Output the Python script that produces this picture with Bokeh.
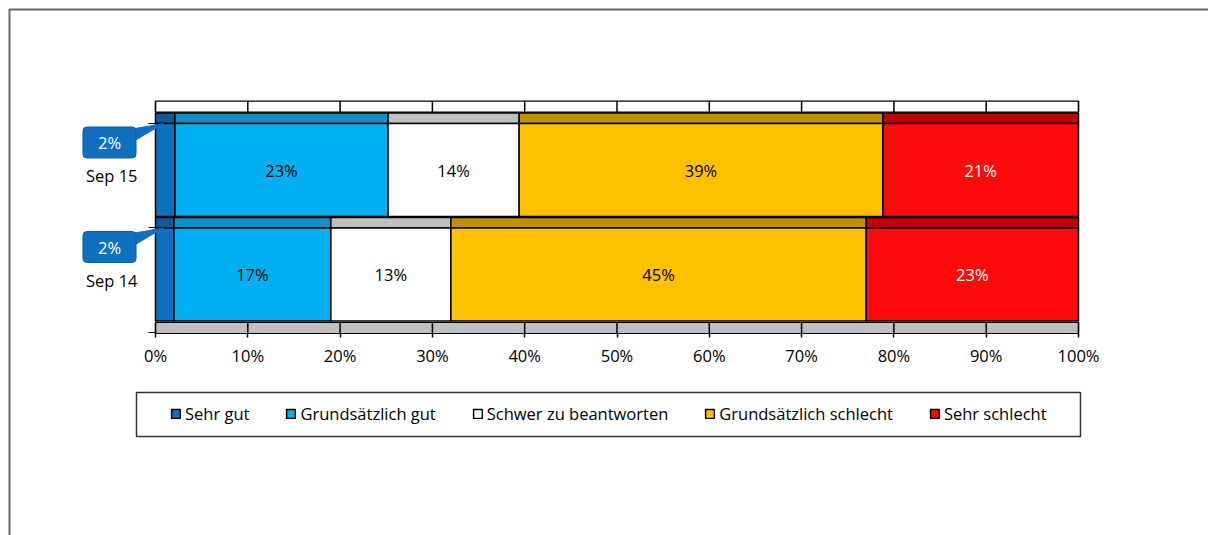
from bokeh.plotting import figure
from bokeh.models import (Range1d, FixedTicker, Legend, LegendItem, Label,
                          PolyAnnotation, BoxAnnotation, ColumnDataSource)
from bokeh.embed import file_html
from bokeh.resources import INLINE
from bokeh.core.properties import value

# ---------------- data ----------------
categories = ["Sep 14", "Sep 15"]
series = ["Sehr gut", "Grundsätzlich gut", "Schwer zu beantworten",
          "Grundsätzlich schlecht", "Sehr schlecht"]
sep14 = [2.0, 17.0, 13.0, 45.0, 23.0]
sep15 = [2.1, 23.1, 14.2, 39.4, 21.2]
x_ticks = [0, 10, 20, 30, 40, 50, 60, 70, 80, 90, 100]
x_tick_labels = ["0%", "10%", "20%", "30%", "40%", "50%", "60%", "70%", "80%", "90%", "100%"]

# ---------------- layout / style ----------------
W, H = 1208, 535
face_colors = ["#1070c0", "#00b0f0", "#ffffff", "#ffc000", "#ff0a0a"]
top_colors = ["#0c5a9e", "#1090c8", "#c0c0c0", "#c39100", "#c00000"]
label_colors = ["white", "black", "black", "black", "white"]
FONT = "Open Sans"
FS = "16.5px"
BAR_H = 0.89
DEPTH = 0.1

# screen <-> data helpers (frame covers the whole canvas)
X_ORIGIN_PX, X_PX_PER_UNIT = 155.0, 9.23
Y_ORIGIN_PX, Y_PX_PER_UNIT = 274.0, 104.5
def px2x(px):
    return (px - X_ORIGIN_PX) / X_PX_PER_UNIT
def px2y(py):
    return (Y_ORIGIN_PX - py) / Y_PX_PER_UNIT
PX_X = 1 / X_PX_PER_UNIT
PX_Y = 1 / Y_PX_PER_UNIT

values = [sep14, sep15]
ypos = list(range(len(categories)))
FACE_TOP = [y + BAR_H / 2 for y in ypos]
FLOOR_B = -1 + BAR_H / 2 - PX_Y          # bottom of floor strip
FLOOR_T = FLOOR_B + 11 * PX_Y
CEIL_B = ypos[-1] + BAR_H / 2 + DEPTH + PX_Y
CEIL_T = CEIL_B + 11 * PX_Y

p = figure(width=W, height=H, output_backend="svg", toolbar_location=None,
           x_range=Range1d(px2x(0), px2x(W)), y_range=Range1d(px2y(H), px2y(0)),
           min_border=0)
p.outline_line_color = None
p.xgrid.visible = False
p.ygrid.visible = False
p.background_fill_color = "white"
p.border_fill_color = "white"

# outer frame of the chart area
p.add_layout(BoxAnnotation(left=px2x(9), top=px2y(9), right=px2x(W + 50), bottom=px2y(H + 50),
                           fill_alpha=0, line_color="#666666", line_alpha=1, line_width=2))

# floor and ceiling strips with grid separators
p.quad(left=[x_ticks[0]], right=[x_ticks[-1]], bottom=[FLOOR_B], top=[FLOOR_T],
       fill_color="#c0c0c0", line_color="black", line_width=1.2)
p.segment(x0=x_ticks, y0=[FLOOR_B] * len(x_ticks), x1=x_ticks, y1=[FLOOR_T] * len(x_ticks),
          line_color="black", line_width=1.5)
p.quad(left=[x_ticks[0]], right=[x_ticks[-1]], bottom=[CEIL_B], top=[CEIL_T],
       fill_color="white", line_color="black", line_width=1.2)
p.segment(x0=x_ticks, y0=[CEIL_B] * len(x_ticks), x1=x_ticks, y1=[CEIL_T] * len(x_ticks),
          line_color="black", line_width=1.5)

face_renderers = []
cum = [0.0] * len(categories)
for i, name in enumerate(series):
    vals = [values[c][i] for c in range(len(categories))]
    left = cum[:]
    right = [l + v for l, v in zip(left, vals)]
    src = ColumnDataSource(dict(y=ypos, left=left, right=right,
                                mid=[(l + r) / 2 for l, r in zip(left, right)],
                                top0=FACE_TOP,
                                top1=[t + DEPTH for t in FACE_TOP],
                                lbl=[f"{round(v)}%" for v in vals]))
    p.quad(left="left", right="right", bottom="top0", top="top1", source=src,
           fill_color=top_colors[i], line_color="black", line_width=1.5)
    r = p.hbar(y="y", left="left", right="right", height=BAR_H, source=src,
               fill_color=face_colors[i], line_color="black", line_width=1.5)
    face_renderers.append(r)
    if i > 0:
        p.text(x="mid", y="y", text="lbl", source=src, text_align="center",
               text_baseline="middle", text_color=label_colors[i],
               text_font=value(FONT), text_font_size=FS)
    else:
        # callouts for the thin first segment
        for c in range(len(categories)):
            tipx = left[c] + vals[c] * 0.42
            tipy = FACE_TOP[c]
            p.add_layout(PolyAnnotation(
                xs=[tipx, tipx - 34 * PX_X, tipx - 27 * PX_X],
                ys=[tipy, tipy - 6 * PX_Y, tipy - 16 * PX_Y],
                fill_color=face_colors[0], fill_alpha=1.0,
                line_color=face_colors[0], line_alpha=1.0, line_width=1))
            p.add_layout(Label(x=left[c] - 46 * PX_X, y=ypos[c] + 27.5 * PX_Y,
                               text=f"{round(vals[c])}%", text_align="center",
                               text_baseline="middle", text_color="white",
                               text_font=FONT, text_font_size=FS,
                               background_fill_color=face_colors[0],
                               border_line_color="#0d5c9f", border_line_width=1,
                               padding=(15, 15, 4, 4), border_radius=4))
    cum = right

# x axis (placed on the floor's front edge)
p.xaxis.fixed_location = FLOOR_B
p.xaxis.ticker = FixedTicker(ticks=x_ticks)
p.xaxis.major_label_overrides = {t: l for t, l in zip(x_ticks, x_tick_labels)}
p.xaxis.major_tick_out = 4
p.xaxis.major_tick_in = 0
p.xaxis.minor_tick_out = 0
p.xaxis.major_tick_line_color = "black"
p.xaxis.major_tick_line_width = 1.5
p.xaxis.axis_line_color = None
p.xaxis.major_label_text_font = FONT
p.xaxis.major_label_text_font_size = FS
p.xaxis.major_label_text_color = "black"
p.xaxis.major_label_standoff = 7

# y axis (at 0 %); labels centred between the category tick marks
p.yaxis.fixed_location = 0
p.yaxis.ticker = FixedTicker(ticks=[t - 0.5 for t in FACE_TOP],
                             minor_ticks=[y + BAR_H / 2 for y in [-1] + ypos])
p.yaxis.major_label_overrides = {t - 0.5: c for t, c in zip(FACE_TOP, categories)}
p.yaxis.major_tick_out = 0
p.yaxis.major_tick_in = 0
p.yaxis.minor_tick_out = 7
p.yaxis.minor_tick_in = 0
p.yaxis.minor_tick_line_color = "black"
p.yaxis.axis_line_color = None
p.yaxis.major_label_text_font = FONT
p.yaxis.major_label_text_font_size = FS
p.yaxis.major_label_text_color = "black"
p.yaxis.major_label_standoff = 11

# legend with its own surrounding box
p.add_layout(BoxAnnotation(left=px2x(136), right=px2x(1080), top=px2y(392), bottom=px2y(436),
                           fill_color="white", fill_alpha=1, line_color="#333333",
                           line_alpha=1, line_width=1.5))
legend = Legend(items=[LegendItem(label=s, renderers=[face_renderers[i]])
                       for i, s in enumerate(series)],
                orientation="horizontal", location=(170, 110),
                glyph_width=11, glyph_height=11, label_standoff=4, spacing=36,
                padding=11, margin=0, label_height=22,
                border_line_color=None, background_fill_alpha=0,
                label_text_font=FONT, label_text_font_size=FS,
                label_text_color="black")
p.add_layout(legend, "center")

open("out.html", "w").write(file_html(p, INLINE))
